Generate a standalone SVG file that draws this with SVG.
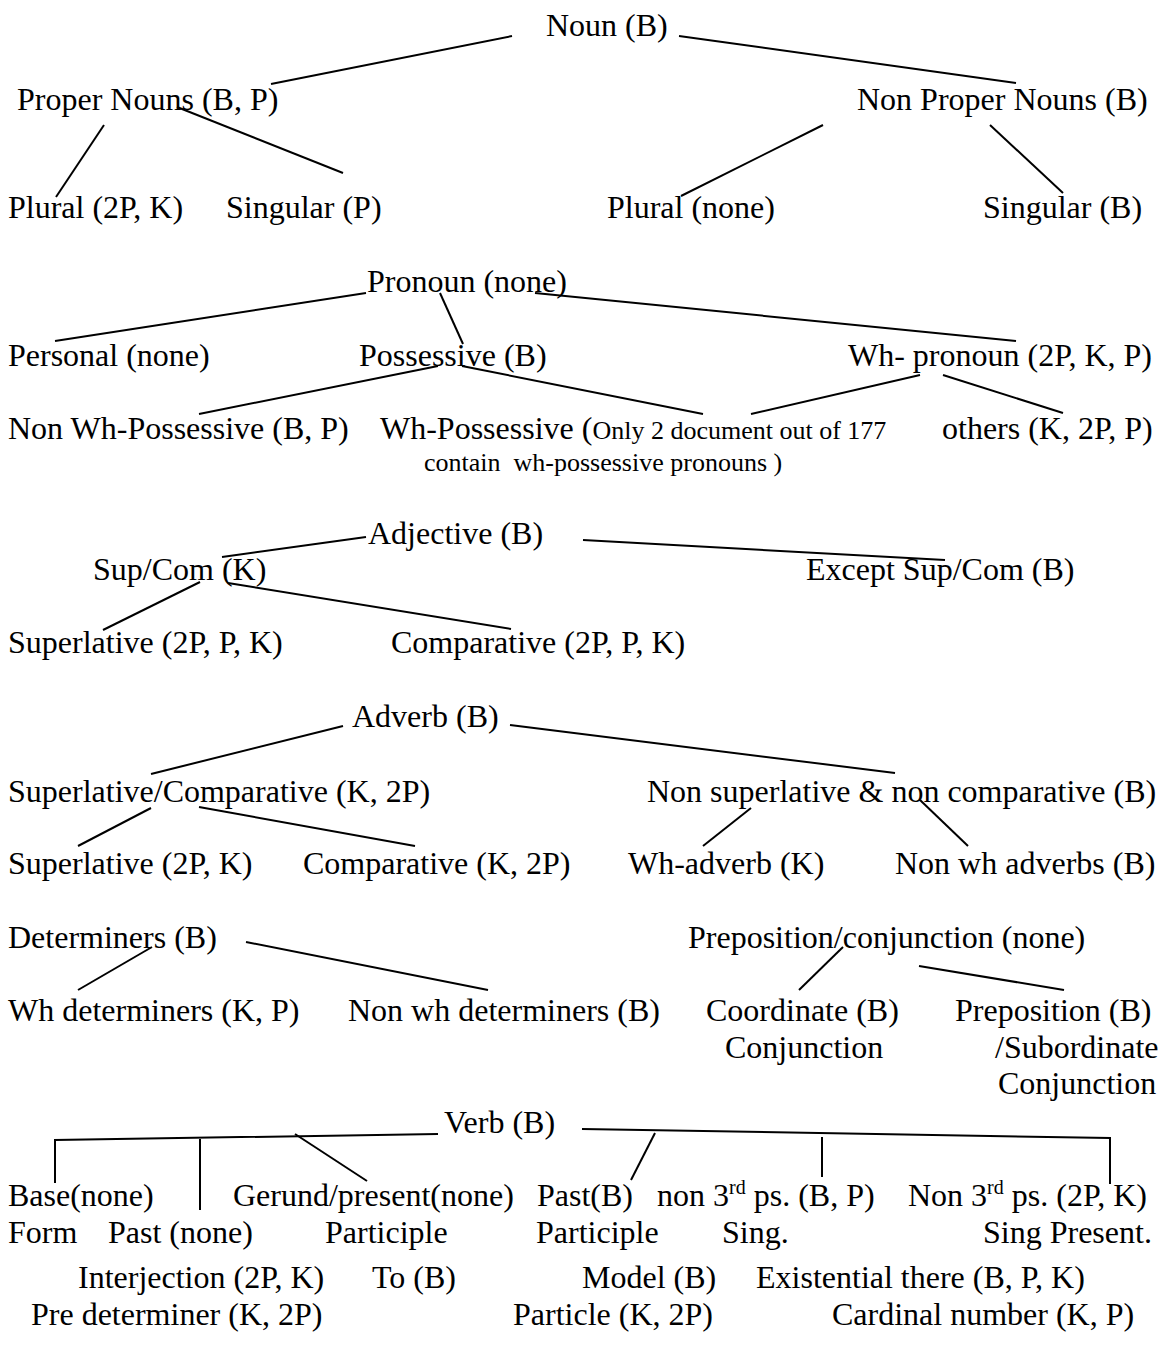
<svg xmlns="http://www.w3.org/2000/svg" width="1160" height="1357" viewBox="0 0 1160 1357">
<style>
text{font-family:"Liberation Serif","Times New Roman",serif;font-size:32px;fill:#000}
.s{font-size:26px}
.sup{font-size:20px}
#connectors line,#connectors polyline{stroke:#000;stroke-width:2;fill:none}
</style>
<rect width="1160" height="1357" fill="#fff"/>
<g id="connectors">
<line x1="512" y1="36" x2="271" y2="84"/>
<line x1="679" y1="36" x2="1016" y2="83"/>
<line x1="104" y1="125" x2="56" y2="197"/>
<line x1="177" y1="107" x2="343" y2="173"/>
<line x1="823" y1="125" x2="681" y2="196"/>
<line x1="990" y1="125" x2="1063" y2="193"/>
<line x1="366" y1="293" x2="55" y2="341"/>
<line x1="440" y1="293" x2="463" y2="344"/>
<line x1="535" y1="293" x2="1016" y2="341"/>
<line x1="438" y1="366" x2="199" y2="414"/>
<line x1="462" y1="366" x2="703" y2="414"/>
<line x1="920" y1="375" x2="751" y2="414"/>
<line x1="943" y1="375" x2="1063" y2="413"/>
<line x1="366" y1="537" x2="222" y2="557"/>
<line x1="583" y1="540" x2="945" y2="560"/>
<line x1="200" y1="582" x2="103" y2="630"/>
<line x1="228" y1="583" x2="511" y2="629"/>
<line x1="343" y1="726" x2="151" y2="774"/>
<line x1="510" y1="725" x2="895" y2="773"/>
<line x1="151" y1="808" x2="78" y2="846"/>
<line x1="199" y1="807" x2="415" y2="846"/>
<line x1="751" y1="808" x2="703" y2="846"/>
<line x1="920" y1="800" x2="968" y2="846"/>
<line x1="152" y1="947" x2="78" y2="990"/>
<line x1="246" y1="942" x2="488" y2="990"/>
<line x1="843" y1="947" x2="799" y2="990"/>
<line x1="919" y1="966" x2="1064" y2="990"/>
<polyline points="438,1134 55,1140 55,1183"/>
<line x1="200" y1="1139" x2="200" y2="1210"/>
<line x1="295" y1="1134" x2="367" y2="1181"/>
<polyline points="582,1129 1110,1138 1110,1184"/>
<line x1="655" y1="1133" x2="631" y2="1180"/>
<line x1="822" y1="1137" x2="822" y2="1177"/>
</g>
<g id="noun"><text x="546" y="36">Noun (B)</text></g>
<g id="proper-nouns"><text x="17" y="110">Proper Nouns (B, P)</text></g>
<g id="non-proper-nouns"><text x="857" y="110">Non Proper Nouns (B)</text></g>
<g id="proper-plural"><text x="8" y="218">Plural (2P, K)</text></g>
<g id="proper-singular"><text x="226" y="218">Singular (P)</text></g>
<g id="nonproper-plural"><text x="607" y="218">Plural (none)</text></g>
<g id="nonproper-singular"><text x="983" y="218">Singular (B)</text></g>
<g id="pronoun"><text x="367" y="292">Pronoun (none)</text></g>
<g id="personal"><text x="8" y="366">Personal (none)</text></g>
<g id="possessive"><text x="359" y="366">Possessive (B)</text></g>
<g id="wh-pronoun"><text x="848" y="366">Wh- pronoun (2P, K, P)</text></g>
<g id="non-wh-possessive"><text x="8" y="439">Non Wh-Possessive (B, P)</text></g>
<g id="wh-possessive"><text x="380" y="439">Wh-Possessive (<tspan class="s">Only 2 document out of 177</tspan></text>
<text class="s" x="424" y="471">contain&#160; wh-possessive pronouns )</text></g>
<g id="others"><text x="942" y="439">others (K, 2P, P)</text></g>
<g id="adjective"><text x="368" y="544">Adjective (B)</text></g>
<g id="sup-com"><text x="93" y="580">Sup/Com (K)</text></g>
<g id="except-sup-com"><text x="806" y="580">Except Sup/Com (B)</text></g>
<g id="adj-superlative"><text x="8" y="653">Superlative (2P, P, K)</text></g>
<g id="adj-comparative"><text x="391" y="653">Comparative (2P, P, K)</text></g>
<g id="adverb"><text x="352" y="727">Adverb (B)</text></g>
<g id="sup-comp"><text x="8" y="802">Superlative/Comparative (K, 2P)</text></g>
<g id="non-sup-comp"><text x="647" y="802">Non superlative &amp; non comparative (B)</text></g>
<g id="adv-superlative"><text x="8" y="874">Superlative (2P, K)</text></g>
<g id="adv-comparative"><text x="303" y="874">Comparative (K, 2P)</text></g>
<g id="wh-adverb"><text x="628" y="874">Wh-adverb (K)</text></g>
<g id="non-wh-adverbs"><text x="895" y="874">Non wh adverbs (B)</text></g>
<g id="determiners"><text x="8" y="948">Determiners (B)</text></g>
<g id="prep-conj"><text x="688" y="948">Preposition/conjunction (none)</text></g>
<g id="wh-determiners"><text x="8" y="1021">Wh determiners (K, P)</text></g>
<g id="non-wh-determiners"><text x="348" y="1021">Non wh determiners (B)</text></g>
<g id="coordinate"><text x="706" y="1021">Coordinate (B)</text><text x="725" y="1058">Conjunction</text></g>
<g id="preposition"><text x="955" y="1021">Preposition (B)</text><text x="995" y="1058">/Subordinate</text><text x="998" y="1094">Conjunction</text></g>
<g id="verb"><text x="444" y="1133">Verb (B)</text></g>
<g id="base-form"><text x="8" y="1206">Base(none)</text><text x="8" y="1243">Form</text></g>
<g id="past"><text x="108" y="1243">Past (none)</text></g>
<g id="gerund"><text x="233" y="1206">Gerund/present(none)</text><text x="325" y="1243">Participle</text></g>
<g id="past-participle"><text x="537" y="1206">Past(B)</text><text x="536" y="1243">Participle</text></g>
<g id="non3rd-sing"><text x="657" y="1206">non 3<tspan class="sup" dy="-12">rd</tspan><tspan dy="12"> ps. (B, P)</tspan></text><text x="722" y="1243">Sing.</text></g>
<g id="non3rd-sing-present"><text x="908" y="1206">Non 3<tspan class="sup" dy="-12">rd</tspan><tspan dy="12"> ps. (2P, K)</tspan></text><text x="983" y="1243">Sing Present.</text></g>
<g id="interjection"><text x="78" y="1288">Interjection (2P, K)</text></g>
<g id="to"><text x="372" y="1288">To (B)</text></g>
<g id="model"><text x="582" y="1288">Model (B)</text></g>
<g id="existential"><text x="756" y="1288">Existential there (B, P, K)</text></g>
<g id="pre-determiner"><text x="31" y="1325">Pre determiner (K, 2P)</text></g>
<g id="particle"><text x="513" y="1325">Particle (K, 2P)</text></g>
<g id="cardinal"><text x="832" y="1325">Cardinal number (K, P)</text></g>
</svg>
